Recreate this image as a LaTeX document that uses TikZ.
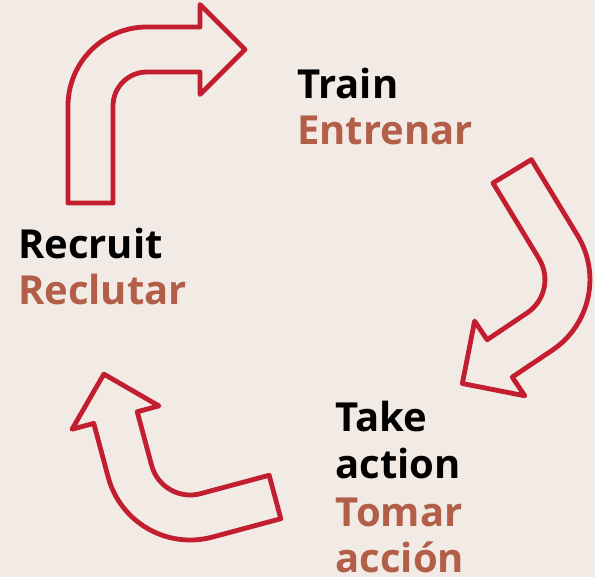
\documentclass[tikz,border=0pt]{standalone}
\usepackage{fontspec}
\setmainfont{Open Sans}
\definecolor{bgc}{HTML}{F2EAE5}
\definecolor{arrowred}{HTML}{C21E2F}
\definecolor{esbrown}{HTML}{B35E48}
\tikzset{
  arrowline/.style={draw=arrowred, line width=4.8pt, line join=round},
  entext/.style={anchor=base west, inner sep=0pt, text=black, font=\fontsize{40}{47}\selectfont\bfseries},
  estext/.style={entext, text=esbrown}
}
% #1 x, #2 y (tail centre), #3 rotation, #4 L1, #5 turn angle, #6 inner radius, #7 L2
\newcommand\bentarrow[7]{%
  \pgfmathsetmacro\baRi{#6}%
  \pgfmathsetmacro\baRo{#6+45}%
  \pgfmathsetmacro\baC{#6+22.5}%
  \pgfmathsetmacro\baCt{cos(#5)}%
  \pgfmathsetmacro\baSt{sin(#5)}%
  \pgfmathsetmacro\baBx{\baC-\baC*\baCt+#7*\baSt}%
  \pgfmathsetmacro\baBy{#4+\baC*\baSt+#7*\baCt}%
  \pgfmathsetmacro\baTx{\baBx+45*\baSt}%
  \pgfmathsetmacro\baTy{\baBy+45*\baCt}%
  \pgfmathsetmacro\baBix{\baBx+45*\baCt}%
  \pgfmathsetmacro\baBiy{\baBy-45*\baSt}%
  \pgfmathsetmacro\baBox{\baBx-45*\baCt}%
  \pgfmathsetmacro\baBoy{\baBy+45*\baSt}%
  \pgfmathsetmacro\baEix{\baBx+22.5*\baCt}%
  \pgfmathsetmacro\baEiy{\baBy-22.5*\baSt}%
  \pgfmathsetmacro\baEox{\baBx-22.5*\baCt}%
  \pgfmathsetmacro\baEoy{\baBy+22.5*\baSt}%
  \pgfmathsetmacro\baAox{\baC-\baRo*\baCt}%
  \pgfmathsetmacro\baAoy{#4+\baRo*\baSt}%
  \begin{scope}[shift={(#1,#2)}, rotate=#3]
    \draw[arrowline] (-22.5,0) -- (22.5,0) -- (22.5,#4)
      arc[start angle=180, end angle=180-#5, radius=\baRi pt]
      -- (\baEix,\baEiy) -- (\baBix,\baBiy) -- (\baTx,\baTy)
      -- (\baBox,\baBoy) -- (\baEox,\baEoy) -- (\baAox,\baAoy)
      arc[start angle=180-#5, end angle=180, radius=\baRo pt] -- cycle;
  \end{scope}%
}
\begin{document}
\begin{tikzpicture}[x=1pt,y=1pt]
  \fill[bgc] (0,0) rectangle (595,577);
  \useasboundingbox (0,0) rectangle (595,577);
  % arrows
  \bentarrow{90.5}{374}{0}{97}{90}{34}{53}
  \bentarrow{512.2}{405.7}{-148.7}{88.8}{87.4}{40}{48.3}
  \bentarrow{275}{80}{105}{71}{90}{40}{55.5}
  % labels
  \node[entext] (train) at (297,478.7) {Train};
  \node[estext] (entrenar) at (297,432) {Entrenar};
  \node[entext] (recruit) at (18,318.7) {Recruit};
  \node[estext] (reclutar) at (18,272) {Reclutar};
  \node[entext] (take) at (335.5,145.3) {Take};
  \node[entext] (action) at (335.5,98.7) {action};
  \node[estext] (tomar) at (335.5,50.3) {Tomar};
  \node[estext] (accion) at (335.5,4.3) {acción};
\end{tikzpicture}
\end{document}
